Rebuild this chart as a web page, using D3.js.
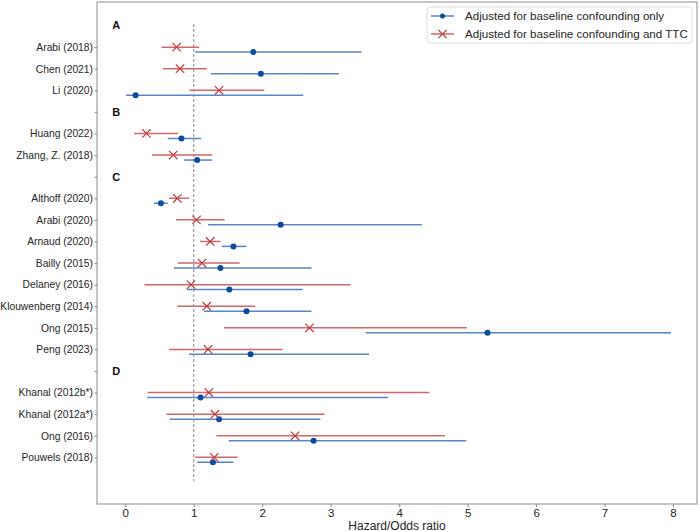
<!DOCTYPE html>
<meta charset="utf-8">
<style>

body {
  margin: 0;
  font-family: 'Liberation Sans', Arial, sans-serif;
  background: #fff;
}

svg {
  display: block;
}

.axis path,
.axis line {
  stroke: #8c8c8c;
}

.axis text {
  fill: #262626;
}

line.ci {
  stroke-width: 1.5px;
}

</style>
<body>

<script src="https://d3js.org/d3.v7.min.js"></script>
<script>

// section headers and the studies that sit under them
var sections = ["A", "B", "C", "D"];
var studies = ["Arabi (2018)", "Chen (2021)", "Li (2020)",
  "Huang (2022)", "Zhang, Z. (2018)",
  "Althoff (2020)", "Arabi (2020)", "Arnaud (2020)", "Bailly (2015)", "Delaney (2016)",
  "Klouwenberg (2014)", "Ong (2015)", "Peng (2023)",
  "Khanal (2012b*)", "Khanal (2012a*)", "Ong (2016)", "Pouwels (2018)"];
var studySection = ["A", "A", "A", "B", "B", "C", "C", "C", "C", "C", "C", "C", "C", "D", "D", "D", "D"];

// adjusted for baseline confounding only
var baseEst = [1.87, 1.98, 0.15, 0.82, 1.05, 0.52, 2.27, 1.58, 1.39, 1.52, 1.77, 5.29, 1.83, 1.10, 1.37, 2.75, 1.28];
var baseLow = [1.02, 1.25, 0.01, 0.62, 0.86, 0.42, 1.21, 1.41, 0.71, 0.90, 1.15, 3.51, 0.93, 0.32, 0.65, 1.51, 1.05];
var baseHigh = [3.45, 3.12, 2.60, 1.11, 1.27, 0.62, 4.33, 1.77, 2.72, 2.59, 2.72, 7.97, 3.56, 3.84, 2.85, 4.98, 1.58];

// adjusted for baseline confounding and TTC
var ttcEst = [0.75, 0.80, 1.37, 0.31, 0.70, 0.76, 1.04, 1.24, 1.12, 0.96, 1.19, 2.69, 1.21, 1.22, 1.31, 2.48, 1.30];
var ttcLow = [0.53, 0.55, 0.94, 0.13, 0.39, 0.64, 0.74, 1.09, 0.77, 0.28, 0.76, 1.44, 0.64, 0.33, 0.60, 1.33, 1.02];
var ttcHigh = [1.08, 1.19, 2.03, 0.77, 1.27, 0.93, 1.45, 1.39, 1.67, 3.29, 1.90, 4.99, 2.30, 4.44, 2.91, 4.67, 1.64];

var xTicks = [0, 1, 2, 3, 4, 5, 6, 7, 8];

var seriesNames = ["Adjusted for baseline confounding only", "Adjusted for baseline confounding and TTC"];

var width = 700,
    height = 531;

var blueLine = "#5a86c5",
    blueDot = "#0b4c9e",
    redLine = "#cd6a6a",
    redMark = "#c23b3d";

// one row per header, then one per study
var rows = [];
sections.forEach(function(s) {
  rows.push({ header: s, row: rows.length });
  studySection.forEach(function(sec, i) {
    if (sec === s) rows.push({ study: i, label: studies[i], row: rows.length });
  });
});

var x = d3.scaleLinear()
    .domain([-0.413, 8.35])
    .range([97, 697]);

var y = d3.scaleLinear()
    .domain([-1.09, 22.16])
    .range([2, 504]);

var blueShift = 0.23;

var svg = d3.select("body")
    .append("svg")
    .attr("width", width)
    .attr("height", height);

// frame
svg.append("rect")
    .attr("x", x.range()[0])
    .attr("y", y.range()[0])
    .attr("width", x.range()[1] - x.range()[0])
    .attr("height", y.range()[1] - y.range()[0])
    .attr("fill", "none")
    .attr("stroke", "#8c8c8c")
    .attr("stroke-width", 1);

var xAxis = d3.axisBottom(x)
    .tickValues(xTicks)
    .tickSize(3)
    .tickPadding(2)
    .tickFormat(d3.format("d"));

svg.append("g")
    .attr("class", "axis")
    .attr("transform", "translate(0," + y.range()[1] + ")")
    .call(xAxis)
    .call(function(g) { g.select(".domain").remove(); })
    .selectAll("text")
    .style("font-size", "11.5px");

var tickRows = rows.filter(function(r) { return r.row > 0; });

var yAxis = d3.axisLeft(y)
    .tickValues(tickRows.map(function(r) { return r.row; }))
    .tickSize(2.5)
    .tickPadding(1.5)
    .tickFormat(function(d) {
      var r = rows[d];
      return r.label || "";
    });

svg.append("g")
    .attr("class", "axis")
    .attr("transform", "translate(" + x.range()[0] + ",0)")
    .call(yAxis)
    .call(function(g) { g.select(".domain").remove(); })
    .selectAll("text")
    .style("font-size", "10.3px");

svg.append("text")
    .attr("x", (x.range()[0] + x.range()[1]) / 2)
    .attr("y", 529.5)
    .attr("text-anchor", "middle")
    .style("font-size", "12px")
    .style("fill", "#262626")
    .text("Hazard/Odds ratio");

// reference line at 1
svg.append("line")
    .attr("x1", x(1)).attr("x2", x(1))
    .attr("y1", y(-0.07)).attr("y2", y(21.12))
    .attr("stroke", "#8a8a8a")
    .attr("stroke-width", 1)
    .attr("stroke-dasharray", "3,2");

// section letters
svg.append("g").selectAll("text")
    .data(rows.filter(function(r) { return r.header; }))
    .enter().append("text")
    .attr("x", x(-0.19))
    .attr("y", function(d) { return y(d.row); })
    .attr("dy", "0.36em")
    .style("font-size", "11px")
    .style("font-weight", "bold")
    .style("fill", "#111")
    .text(function(d) { return d.header; });

var studyRows = rows.filter(function(r) { return r.label; });

// blue: baseline only
var base = svg.append("g");
base.selectAll("line")
    .data(studyRows)
    .enter().append("line")
    .attr("class", "ci")
    .attr("x1", function(d) { return x(baseLow[d.study]); })
    .attr("x2", function(d) { return x(baseHigh[d.study]); })
    .attr("y1", function(d) { return y(d.row + blueShift); })
    .attr("y2", function(d) { return y(d.row + blueShift); })
    .attr("stroke", blueLine);
base.selectAll("circle")
    .data(studyRows)
    .enter().append("circle")
    .attr("cx", function(d) { return x(baseEst[d.study]); })
    .attr("cy", function(d) { return y(d.row + blueShift); })
    .attr("r", 3)
    .attr("fill", blueDot);

// red: baseline and TTC
var ttc = svg.append("g");
ttc.selectAll("line")
    .data(studyRows)
    .enter().append("line")
    .attr("class", "ci")
    .attr("x1", function(d) { return x(ttcLow[d.study]); })
    .attr("x2", function(d) { return x(ttcHigh[d.study]); })
    .attr("y1", function(d) { return y(d.row); })
    .attr("y2", function(d) { return y(d.row); })
    .attr("stroke", redLine);

function cross(sel, s) {
  sel.append("path")
    .attr("d", "M" + (-s) + "," + (-s) + "L" + s + "," + s + "M" + (-s) + "," + s + "L" + s + "," + (-s))
    .attr("stroke", redMark)
    .attr("stroke-width", 1.2)
    .attr("fill", "none");
}

ttc.selectAll("g")
    .data(studyRows)
    .enter().append("g")
    .attr("transform", function(d) { return "translate(" + x(ttcEst[d.study]) + "," + y(d.row) + ")"; })
    .call(cross, 4.2);

// legend
var legend = svg.append("g")
    .attr("transform", "translate(427,7)");

legend.append("rect")
    .attr("width", 265)
    .attr("height", 36)
    .attr("rx", 3)
    .attr("fill", "#fff")
    .attr("fill-opacity", 0.85)
    .attr("stroke", "#dcdcdc");

var items = legend.selectAll("g")
    .data(seriesNames)
    .enter().append("g")
    .attr("transform", function(d, i) { return "translate(0," + (9 + i * 18) + ")"; });

items.append("line")
    .attr("x1", 4).attr("x2", 27)
    .attr("stroke", function(d, i) { return i === 0 ? blueLine : redLine; })
    .attr("stroke-width", 1.5);

items.filter(function(d, i) { return i === 0; })
    .append("circle")
    .attr("cx", 15.5)
    .attr("r", 2.5)
    .attr("fill", blueDot);

items.filter(function(d, i) { return i === 1; })
    .append("g")
    .attr("transform", "translate(15.5,0)")
    .call(cross, 4.2);

items.append("text")
    .attr("x", 38)
    .attr("dy", "0.36em")
    .style("font-size", "11.6px")
    .style("fill", "#262626")
    .text(function(d) { return d; });

</script>

</body>
